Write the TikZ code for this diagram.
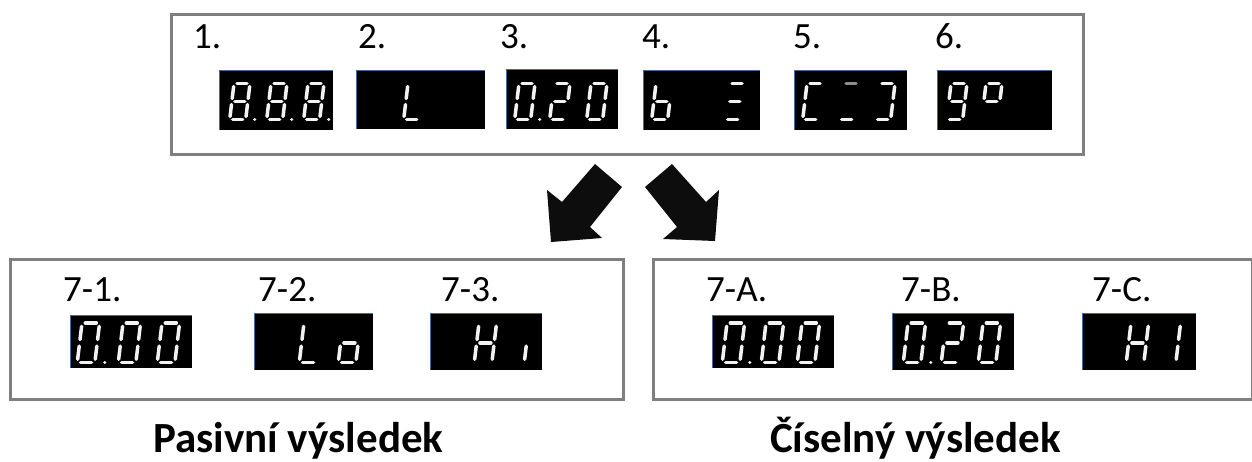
\documentclass[tikz,border=0pt]{standalone}
\usepackage{fontspec}
\setmainfont{Carlito}
\definecolor{boxgray}{HTML}{7F7F7F}
\definecolor{arrowblack}{HTML}{0D0D0D}
\definecolor{segwhite}{HTML}{F2F2F2}
\definecolor{segdimgray}{HTML}{8C8C8C}
\definecolor{lcdedgecol}{HTML}{4A6A96}
\tikzset{
 sega/.style={insert path={(3,0)--(13,0)}},
 segb/.style={insert path={(16,3)--(16,15)}},
 segc/.style={insert path={(16,21)--(16,33)}},
 segd/.style={insert path={(3,36)--(13,36)}},
 sege/.style={insert path={(0,21)--(0,33)}},
 segf/.style={insert path={(0,3)--(0,15)}},
 segg/.style={insert path={(3,18)--(13,18)}},
 segp/.style={insert path={(25,36)--(25.01,36)}},
 segline/.style={draw=segwhite, line width=3.5pt, line cap=round},
 segdim/.style={draw=segdimgray, line width=3.5pt, line cap=round},
 panel/.style={draw=boxgray, line width=3pt, fill=none, inner sep=0, anchor=north west},
 lcd/.style={fill=black, inner sep=0, anchor=north west},
 lcdedge/.style={draw=lcdedgecol, line width=1pt},
 lbl/.style={font=\fontsize{37}{37}\selectfont, anchor=base west, inner sep=0},
 ttl/.style={font=\bfseries\fontsize{43}{43}\selectfont, anchor=base west, inner sep=0},
 blockarrow/.style={fill=arrowblack},
}
\newcommand\ssdigit[5]{% x0,y0,scale,style,segments
  \begin{scope}[shift={(#1,#2)},xslant=0.12,scale=#3]
  \foreach \s in {#5}{\edef\tmpseg{\noexpand\draw[#4,seg\s];}\tmpseg}
  \end{scope}}
\newcommand\lcdpanel[5]{% name, x1,y1,x2,y2
  \node[lcd, minimum width=#4pt-#2pt, minimum height=#5pt-#3pt] (#1) at (#2,#3) {};
  \draw[lcdedge] (#1.south west) -- (#1.north west) -- (#1.north east);}
\begin{document}
\begin{tikzpicture}[x=1pt,y=-1pt]
\useasboundingbox (0,0) rectangle (1252,461);
% panels
\node[panel, minimum width=912pt, minimum height=140pt] (toppanel) at (170,13) {};
\node[panel, minimum width=613pt, minimum height=140pt] (leftpanel) at (9,258) {};
\node[panel, minimum width=598.5pt, minimum height=140pt] (rightpanel) at (652,258) {};
% top labels
\node[lbl] (l1) at (193,48) {1.};
\node[lbl] (l2) at (358,48) {2.};
\node[lbl] (l3) at (500,48) {3.};
\node[lbl] (l4) at (642,48) {4.};
\node[lbl] (l5) at (793,48) {5.};
\node[lbl] (l6) at (935,48) {6.};
% top displays
\lcdpanel{d1}{219}{70}{333}{130}
\lcdpanel{d2}{356}{70}{485}{129}
\lcdpanel{d3}{506}{69}{618}{129}
\lcdpanel{d4}{643}{70}{760}{130}
\lcdpanel{d5}{794}{70}{907}{130}
\lcdpanel{d6}{937}{70}{1052}{130}
\ssdigit{234}{83.5}{1}{segline}{a,b,c,d,e,f,g,p}
\ssdigit{271}{83.5}{1}{segline}{a,b,c,d,e,f,g,p}
\ssdigit{308}{83.5}{1}{segline}{a,b,c,d,e,f,g,p}
\ssdigit{408}{83.5}{1}{segline}{d,e,f}
\ssdigit{519}{83.5}{1}{segline}{a,b,c,d,e,f,p}
\ssdigit{554}{83.5}{1}{segline}{a,b,g,e,d}
\ssdigit{591}{83.5}{1}{segline}{a,b,c,d,e,f}
\ssdigit{656}{83.5}{1}{segline}{c,d,e,f,g}
\ssdigit{729}{83.5}{1}{segline}{a,g,d}
\ssdigit{807}{83.5}{1}{segline}{a,d,e,f}
\ssdigit{843}{83.5}{1}{segdim}{a}
\ssdigit{843}{83.5}{1}{segline}{d}
\ssdigit{879}{83.5}{1}{segline}{a,b,c,d}
\ssdigit{951}{83.5}{1}{segline}{a,b,c,d,f,g}
\ssdigit{986}{83.5}{1}{segline}{a,b,f,g}
% arrows
\fill[blockarrow] (595,164) -- (562,202) -- (547,190) -- (551,242) -- (602,238) -- (590,227) -- (622,187) -- cycle;
\fill[blockarrow] (672,164) -- (706,202) -- (719,190) -- (715,241) -- (663,239) -- (677,227) -- (645,187) -- cycle;
% bottom left
\node[lbl] (l71) at (63,301) {7-1.};
\node[lbl] (l72) at (258,301) {7-2.};
\node[lbl] (l73) at (441,301) {7-3.};
\lcdpanel{d71}{70}{315}{192}{368}
\lcdpanel{d72}{254}{313}{373}{370}
\lcdpanel{d73}{430}{313}{542}{370}
\ssdigit{82}{323}{1.1}{segline}{a,b,c,d,e,f,p}
\ssdigit{123}{323}{1.1}{segline}{a,b,c,d,e,f}
\ssdigit{162}{323}{1.1}{segline}{a,b,c,d,e,f}
\ssdigit{304}{323}{1.1}{segline}{d,e,f}
\ssdigit{343}{323}{1.1}{segline}{c,d,e,g}
\ssdigit{479}{323}{1.1}{segline}{b,c,e,f,g}
\ssdigit{529}{323}{1.1}{segline}{e}
% bottom right
\node[lbl] (l7a) at (706,301) {7-A.};
\node[lbl] (l7b) at (901,301) {7-B.};
\node[lbl] (l7c) at (1092,301) {7-C.};
\lcdpanel{d7a}{712}{315}{834}{368}
\lcdpanel{d7b}{892}{313}{1014}{370}
\lcdpanel{d7c}{1082}{313}{1196}{370}
\ssdigit{727}{323}{1.1}{segline}{a,b,c,d,e,f,p}
\ssdigit{766}{323}{1.1}{segline}{a,b,c,d,e,f}
\ssdigit{802}{323}{1.1}{segline}{a,b,c,d,e,f}
\ssdigit{908}{323}{1.1}{segline}{a,b,c,d,e,f,p}
\ssdigit{946}{323}{1.1}{segline}{a,b,g,e,d}
\ssdigit{983}{323}{1.1}{segline}{a,b,c,d,e,f}
\ssdigit{1131}{323}{1.1}{segline}{b,c,e,f,g}
\ssdigit{1163}{323}{1.1}{segline}{b,c}
% titles
\node[ttl] (t1) at (153,452) {Pasivní výsledek};
\node[ttl] (t2) at (770,452) {Číselný výsledek};
\end{tikzpicture}
\end{document}
